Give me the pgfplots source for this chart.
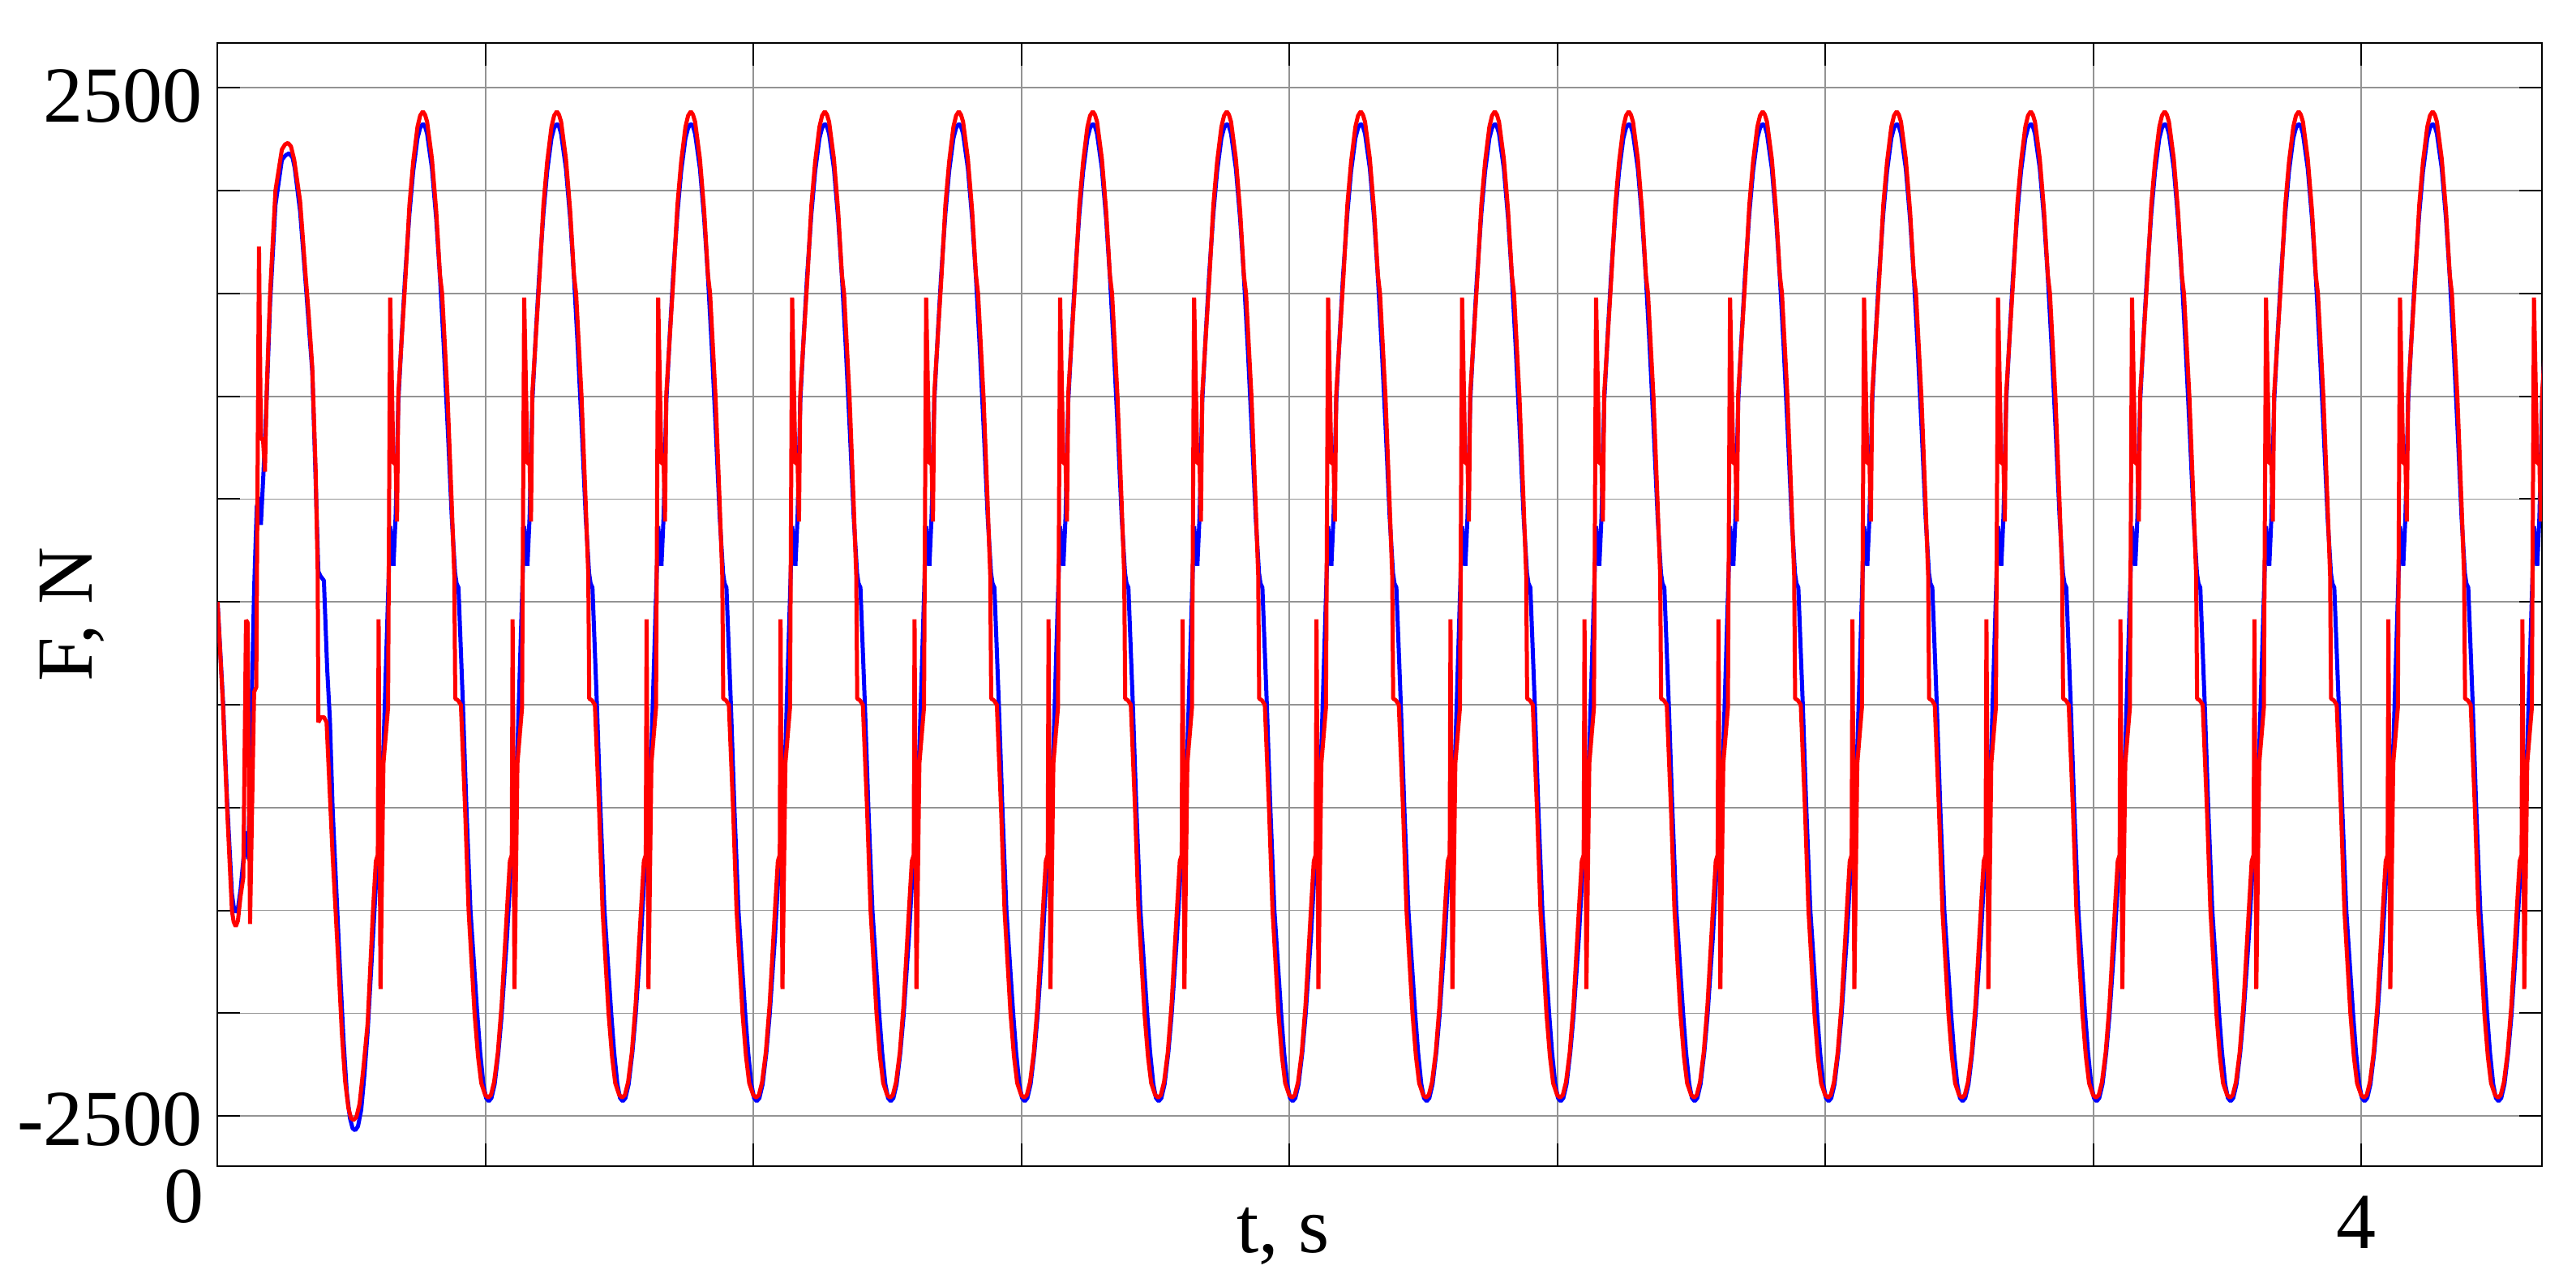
\documentclass[border=0pt]{standalone}
\usepackage{fontspec}
\setmainfont{Liberation Serif}
\usepackage{pgfplots}
\pgfplotsset{compat=1.18}

\newcommand{\lblfont}{\fontsize{14.7}{17}\selectfont}

\begin{document}
\begin{tikzpicture}
\begin{axis}[
  scale only axis,
  width=430pt, height=207.8pt,
  xmin=0, xmax=4.337,
  ymin=-2745, ymax=2718,
  xtick={0,0.5,1,1.5,2,2.5,3,3.5,4},
  xticklabels={\raisebox{4.8pt}{\llap{0\hspace{1.65pt}}},,,,,,,,4},
  ytick={-2500,-2000,-1500,-1000,-500,0,500,1000,1500,2000,2500},
  yticklabels={-2500,,,,,,,,,,\raisebox{-0.9pt}{2500}\hspace{2.25pt}},
  xticklabel style={anchor=base, inner sep=0pt, yshift=-15.1pt, xshift=-0.95pt, font=\lblfont},
  yticklabel style={anchor=base east, inner sep=0pt, xshift=-2.6pt, yshift=-5.4pt, font=\lblfont},
  tick align=inside,
  major tick length=4.2pt,
  major tick style={black, line width=0.3pt},
  grid=major,
  major grid style={gray!85, line width=0.25pt},
  axis line style={black, line width=0.3pt},
  xlabel={t, s},
  ylabel={F, N},
  x label style={at={(axis description cs:0.4584,-0.0769)}, anchor=base, inner sep=0pt, font=\lblfont},
  y label style={at={(axis description cs:-0.05407,0.4913)}, rotate=0, anchor=base, inner sep=0pt, font=\lblfont},
]
% blue
\addplot[blue, line width=0.75pt, line join=bevel] coordinates {
(0,0) (0.0101,-480) (0.0177,-960) (0.0268,-1420) (0.0300,-1480) (0.0339,-1510) (0.0380,-1490) (0.0429,-1400) (0.0531,-1115) (0.0571,-1251) (0.0631,-551) (0.0682,59) (0.0732,465) (0.0783,510) (0.0808,375) (0.0858,634) (0.0920,1020) (0.0980,1450) (0.1080,1930) (0.1200,2150) (0.1270,2172) (0.1337,2182) (0.1400,2160) (0.1440,2110) (0.1540,1900) (0.1641,1560) (0.1767,1120) (0.1818,700) (0.1880,149) (0.1920,126) (0.1984,104) (0.2045,-325) (0.2096,-573) (0.2146,-1002) (0.2272,-1720) (0.2350,-2130) (0.2410,-2380) (0.2470,-2510) (0.2520,-2560) (0.2568,-2569) (0.2620,-2550) (0.2680,-2470) (0.2740,-2300) (0.280,-2090)
(0.290,-1630) (0.297,-1300) (0.2995,-1235) (0.3025,-1205) (0.310,-672) (0.3221,369) (0.3282,176) (0.3323,420) (0.3373,975) (0.344,1310) (0.350,1585) (0.358,1888) (0.365,2094) (0.373,2255) (0.378,2305) (0.383,2325) (0.387,2313) (0.391,2277) (0.400,2108) (0.408,1862) (0.415,1580) (0.422,1245) (0.430,815) (0.437,410) (0.4432,140) (0.446,90) (0.4495,70) (0.4578,-500) (0.4643,-1000) (0.4719,-1500) (0.4845,-2000) (0.490,-2190) (0.496,-2345) (0.501,-2412)
(0.506,-2428) (0.511,-2412) (0.517,-2345) (0.524,-2190) (0.530,-2012) (0.540,-1630) (0.547,-1300) (0.5495,-1235) (0.5525,-1205) (0.560,-672) (0.5721,369) (0.5782,176) (0.5823,420) (0.5873,975) (0.594,1310) (0.600,1585) (0.608,1888) (0.615,2094) (0.623,2255) (0.628,2305) (0.633,2325) (0.637,2313) (0.641,2277) (0.650,2108) (0.658,1862) (0.665,1580) (0.672,1245) (0.680,815) (0.687,410) (0.6932,140) (0.696,90) (0.6995,70) (0.7078,-500) (0.7143,-1000) (0.7219,-1500) (0.7345,-2000) (0.740,-2190) (0.746,-2345) (0.751,-2412)
(0.756,-2428) (0.761,-2412) (0.767,-2345) (0.774,-2190) (0.780,-2012) (0.790,-1630) (0.797,-1300) (0.7995,-1235) (0.8025,-1205) (0.810,-672) (0.8221,369) (0.8282,176) (0.8323,420) (0.8373,975) (0.844,1310) (0.850,1585) (0.858,1888) (0.865,2094) (0.873,2255) (0.878,2305) (0.883,2325) (0.887,2313) (0.891,2277) (0.900,2108) (0.908,1862) (0.915,1580) (0.922,1245) (0.930,815) (0.937,410) (0.9432,140) (0.946,90) (0.9495,70) (0.9578,-500) (0.9643,-1000) (0.9719,-1500) (0.9845,-2000) (0.990,-2190) (0.996,-2345) (1.001,-2412)
(1.006,-2428) (1.011,-2412) (1.017,-2345) (1.024,-2190) (1.030,-2012) (1.040,-1630) (1.047,-1300) (1.0495,-1235) (1.0525,-1205) (1.060,-672) (1.0721,369) (1.0782,176) (1.0823,420) (1.0873,975) (1.094,1310) (1.100,1585) (1.108,1888) (1.115,2094) (1.123,2255) (1.128,2305) (1.133,2325) (1.137,2313) (1.141,2277) (1.150,2108) (1.158,1862) (1.165,1580) (1.172,1245) (1.180,815) (1.187,410) (1.1932,140) (1.196,90) (1.1995,70) (1.2078,-500) (1.2143,-1000) (1.2219,-1500) (1.2345,-2000) (1.240,-2190) (1.246,-2345) (1.251,-2412)
(1.256,-2428) (1.261,-2412) (1.267,-2345) (1.274,-2190) (1.280,-2012) (1.290,-1630) (1.297,-1300) (1.2995,-1235) (1.3025,-1205) (1.310,-672) (1.3221,369) (1.3282,176) (1.3323,420) (1.3373,975) (1.344,1310) (1.350,1585) (1.358,1888) (1.365,2094) (1.373,2255) (1.378,2305) (1.383,2325) (1.387,2313) (1.391,2277) (1.400,2108) (1.408,1862) (1.415,1580) (1.422,1245) (1.430,815) (1.437,410) (1.4432,140) (1.446,90) (1.4495,70) (1.4578,-500) (1.4643,-1000) (1.4719,-1500) (1.4845,-2000) (1.490,-2190) (1.496,-2345) (1.501,-2412)
(1.506,-2428) (1.511,-2412) (1.517,-2345) (1.524,-2190) (1.530,-2012) (1.540,-1630) (1.547,-1300) (1.5495,-1235) (1.5525,-1205) (1.560,-672) (1.5721,369) (1.5782,176) (1.5823,420) (1.5873,975) (1.594,1310) (1.600,1585) (1.608,1888) (1.615,2094) (1.623,2255) (1.628,2305) (1.633,2325) (1.637,2313) (1.641,2277) (1.650,2108) (1.658,1862) (1.665,1580) (1.672,1245) (1.680,815) (1.687,410) (1.6932,140) (1.696,90) (1.6995,70) (1.7078,-500) (1.7143,-1000) (1.7219,-1500) (1.7345,-2000) (1.740,-2190) (1.746,-2345) (1.751,-2412)
(1.756,-2428) (1.761,-2412) (1.767,-2345) (1.774,-2190) (1.780,-2012) (1.790,-1630) (1.797,-1300) (1.7995,-1235) (1.8025,-1205) (1.810,-672) (1.8221,369) (1.8282,176) (1.8323,420) (1.8373,975) (1.844,1310) (1.850,1585) (1.858,1888) (1.865,2094) (1.873,2255) (1.878,2305) (1.883,2325) (1.887,2313) (1.891,2277) (1.900,2108) (1.908,1862) (1.915,1580) (1.922,1245) (1.930,815) (1.937,410) (1.9432,140) (1.946,90) (1.9495,70) (1.9578,-500) (1.9643,-1000) (1.9719,-1500) (1.9845,-2000) (1.990,-2190) (1.996,-2345) (2.001,-2412)
(2.006,-2428) (2.011,-2412) (2.017,-2345) (2.024,-2190) (2.030,-2012) (2.040,-1630) (2.047,-1300) (2.0495,-1235) (2.0525,-1205) (2.060,-672) (2.0721,369) (2.0782,176) (2.0823,420) (2.0873,975) (2.094,1310) (2.100,1585) (2.108,1888) (2.115,2094) (2.123,2255) (2.128,2305) (2.133,2325) (2.137,2313) (2.141,2277) (2.150,2108) (2.158,1862) (2.165,1580) (2.172,1245) (2.180,815) (2.187,410) (2.1932,140) (2.196,90) (2.1995,70) (2.2078,-500) (2.2143,-1000) (2.2219,-1500) (2.2345,-2000) (2.240,-2190) (2.246,-2345) (2.251,-2412)
(2.256,-2428) (2.261,-2412) (2.267,-2345) (2.274,-2190) (2.280,-2012) (2.290,-1630) (2.297,-1300) (2.2995,-1235) (2.3025,-1205) (2.310,-672) (2.3221,369) (2.3282,176) (2.3323,420) (2.3373,975) (2.344,1310) (2.350,1585) (2.358,1888) (2.365,2094) (2.373,2255) (2.378,2305) (2.383,2325) (2.387,2313) (2.391,2277) (2.400,2108) (2.408,1862) (2.415,1580) (2.422,1245) (2.430,815) (2.437,410) (2.4432,140) (2.446,90) (2.4495,70) (2.4578,-500) (2.4643,-1000) (2.4719,-1500) (2.4845,-2000) (2.490,-2190) (2.496,-2345) (2.501,-2412)
(2.506,-2428) (2.511,-2412) (2.517,-2345) (2.524,-2190) (2.530,-2012) (2.540,-1630) (2.547,-1300) (2.5495,-1235) (2.5525,-1205) (2.560,-672) (2.5721,369) (2.5782,176) (2.5823,420) (2.5873,975) (2.594,1310) (2.600,1585) (2.608,1888) (2.615,2094) (2.623,2255) (2.628,2305) (2.633,2325) (2.637,2313) (2.641,2277) (2.650,2108) (2.658,1862) (2.665,1580) (2.672,1245) (2.680,815) (2.687,410) (2.6932,140) (2.696,90) (2.6995,70) (2.7078,-500) (2.7143,-1000) (2.7219,-1500) (2.7345,-2000) (2.740,-2190) (2.746,-2345) (2.751,-2412)
(2.756,-2428) (2.761,-2412) (2.767,-2345) (2.774,-2190) (2.780,-2012) (2.790,-1630) (2.797,-1300) (2.7995,-1235) (2.8025,-1205) (2.810,-672) (2.8221,369) (2.8282,176) (2.8323,420) (2.8373,975) (2.844,1310) (2.850,1585) (2.858,1888) (2.865,2094) (2.873,2255) (2.878,2305) (2.883,2325) (2.887,2313) (2.891,2277) (2.900,2108) (2.908,1862) (2.915,1580) (2.922,1245) (2.930,815) (2.937,410) (2.9432,140) (2.946,90) (2.9495,70) (2.9578,-500) (2.9643,-1000) (2.9719,-1500) (2.9845,-2000) (2.990,-2190) (2.996,-2345) (3.001,-2412)
(3.006,-2428) (3.011,-2412) (3.017,-2345) (3.024,-2190) (3.030,-2012) (3.040,-1630) (3.047,-1300) (3.0495,-1235) (3.0525,-1205) (3.060,-672) (3.0721,369) (3.0782,176) (3.0823,420) (3.0873,975) (3.094,1310) (3.100,1585) (3.108,1888) (3.115,2094) (3.123,2255) (3.128,2305) (3.133,2325) (3.137,2313) (3.141,2277) (3.150,2108) (3.158,1862) (3.165,1580) (3.172,1245) (3.180,815) (3.187,410) (3.1932,140) (3.196,90) (3.1995,70) (3.2078,-500) (3.2143,-1000) (3.2219,-1500) (3.2345,-2000) (3.240,-2190) (3.246,-2345) (3.251,-2412)
(3.256,-2428) (3.261,-2412) (3.267,-2345) (3.274,-2190) (3.280,-2012) (3.290,-1630) (3.297,-1300) (3.2995,-1235) (3.3025,-1205) (3.310,-672) (3.3221,369) (3.3282,176) (3.3323,420) (3.3373,975) (3.344,1310) (3.350,1585) (3.358,1888) (3.365,2094) (3.373,2255) (3.378,2305) (3.383,2325) (3.387,2313) (3.391,2277) (3.400,2108) (3.408,1862) (3.415,1580) (3.422,1245) (3.430,815) (3.437,410) (3.4432,140) (3.446,90) (3.4495,70) (3.4578,-500) (3.4643,-1000) (3.4719,-1500) (3.4845,-2000) (3.490,-2190) (3.496,-2345) (3.501,-2412)
(3.506,-2428) (3.511,-2412) (3.517,-2345) (3.524,-2190) (3.530,-2012) (3.540,-1630) (3.547,-1300) (3.5495,-1235) (3.5525,-1205) (3.560,-672) (3.5721,369) (3.5782,176) (3.5823,420) (3.5873,975) (3.594,1310) (3.600,1585) (3.608,1888) (3.615,2094) (3.623,2255) (3.628,2305) (3.633,2325) (3.637,2313) (3.641,2277) (3.650,2108) (3.658,1862) (3.665,1580) (3.672,1245) (3.680,815) (3.687,410) (3.6932,140) (3.696,90) (3.6995,70) (3.7078,-500) (3.7143,-1000) (3.7219,-1500) (3.7345,-2000) (3.740,-2190) (3.746,-2345) (3.751,-2412)
(3.756,-2428) (3.761,-2412) (3.767,-2345) (3.774,-2190) (3.780,-2012) (3.790,-1630) (3.797,-1300) (3.7995,-1235) (3.8025,-1205) (3.810,-672) (3.8221,369) (3.8282,176) (3.8323,420) (3.8373,975) (3.844,1310) (3.850,1585) (3.858,1888) (3.865,2094) (3.873,2255) (3.878,2305) (3.883,2325) (3.887,2313) (3.891,2277) (3.900,2108) (3.908,1862) (3.915,1580) (3.922,1245) (3.930,815) (3.937,410) (3.9432,140) (3.946,90) (3.9495,70) (3.9578,-500) (3.9643,-1000) (3.9719,-1500) (3.9845,-2000) (3.990,-2190) (3.996,-2345) (4.001,-2412)
(4.006,-2428) (4.011,-2412) (4.017,-2345) (4.024,-2190) (4.030,-2012) (4.040,-1630) (4.047,-1300) (4.0495,-1235) (4.0525,-1205) (4.060,-672) (4.0721,369) (4.0782,176) (4.0823,420) (4.0873,975) (4.094,1310) (4.100,1585) (4.108,1888) (4.115,2094) (4.123,2255) (4.128,2305) (4.133,2325) (4.137,2313) (4.141,2277) (4.150,2108) (4.158,1862) (4.165,1580) (4.172,1245) (4.180,815) (4.187,410) (4.1932,140) (4.196,90) (4.1995,70) (4.2078,-500) (4.2143,-1000) (4.2219,-1500) (4.2345,-2000) (4.240,-2190) (4.246,-2345) (4.251,-2412)
(4.256,-2428) (4.261,-2412) (4.267,-2345) (4.274,-2190) (4.280,-2012) (4.290,-1630) (4.297,-1300) (4.2995,-1235) (4.3025,-1205) (4.310,-672) (4.3221,369) (4.3282,176) (4.3323,420) (4.3373,975) (4.344,1310)
};
% red
\addplot[red, line width=0.75pt, line join=bevel] coordinates {
(0,0) (0.0101,-500) (0.0177,-1000) (0.0268,-1500) (0.0300,-1555) (0.0339,-1578) (0.0380,-1550) (0.0429,-1431) (0.0480,-1341) (0.0531,-88) (0.0560,-100) (0.0606,-1566) (0.0682,-438) (0.0722,-415) (0.0773,1729) (0.0808,792) (0.0848,792) (0.0884,634) (0.0920,1050) (0.0980,1500) (0.1080,2000) (0.1200,2200) (0.1260,2225) (0.1314,2232) (0.1370,2215) (0.1430,2150) (0.1540,1950) (0.1641,1594) (0.1700,1400) (0.1767,1142) (0.1830,640) (0.1868,149) (0.1880,-585) (0.1932,-560) (0.1985,-560) (0.2034,-585) (0.2146,-1228) (0.2247,-1720) (0.2320,-2100) (0.2380,-2330) (0.2440,-2460) (0.2490,-2510) (0.2538,-2519) (0.2590,-2505) (0.2650,-2440) (0.2720,-2270) (0.280,-2050)
(0.290,-1500) (0.2954,-1260) (0.299,-1230) (0.3005,-84) (0.304,-1882) (0.3095,-785) (0.3181,-514) (0.3221,1480) (0.3282,674) (0.3323,674) (0.3348,391) (0.3373,1013) (0.3509,1590) (0.358,1930) (0.365,2140) (0.373,2310) (0.378,2365) (0.383,2385) (0.387,2370) (0.391,2335) (0.400,2155) (0.408,1900) (0.415,1590) (0.419,1500) (0.4291,1000) (0.4366,500) (0.4417,130) (0.4435,-470) (0.4485,-478) (0.454,-500) (0.4618,-1000) (0.4684,-1500) (0.4795,-2000) (0.486,-2210) (0.492,-2340) (0.4995,-2398)
(0.505,-2410) (0.510,-2398) (0.516,-2335) (0.523,-2190) (0.530,-1960) (0.540,-1500) (0.5454,-1260) (0.549,-1230) (0.5505,-84) (0.554,-1882) (0.5595,-785) (0.5681,-514) (0.5721,1480) (0.5782,674) (0.5823,674) (0.5848,391) (0.5873,1013) (0.6009,1590) (0.608,1930) (0.615,2140) (0.623,2310) (0.628,2365) (0.633,2385) (0.637,2370) (0.641,2335) (0.650,2155) (0.658,1900) (0.665,1590) (0.669,1500) (0.6791,1000) (0.6866,500) (0.6917,130) (0.6935,-470) (0.6985,-478) (0.704,-500) (0.7118,-1000) (0.7184,-1500) (0.7295,-2000) (0.736,-2210) (0.742,-2340) (0.7495,-2398)
(0.755,-2410) (0.760,-2398) (0.766,-2335) (0.773,-2190) (0.780,-1960) (0.790,-1500) (0.7954,-1260) (0.799,-1230) (0.8005,-84) (0.804,-1882) (0.8095,-785) (0.8181,-514) (0.8221,1480) (0.8282,674) (0.8323,674) (0.8348,391) (0.8373,1013) (0.8509,1590) (0.858,1930) (0.865,2140) (0.873,2310) (0.878,2365) (0.883,2385) (0.887,2370) (0.891,2335) (0.900,2155) (0.908,1900) (0.915,1590) (0.919,1500) (0.9291,1000) (0.9366,500) (0.9417,130) (0.9435,-470) (0.9485,-478) (0.954,-500) (0.9618,-1000) (0.9684,-1500) (0.9795,-2000) (0.986,-2210) (0.992,-2340) (0.9995,-2398)
(1.005,-2410) (1.010,-2398) (1.016,-2335) (1.023,-2190) (1.030,-1960) (1.040,-1500) (1.0454,-1260) (1.049,-1230) (1.0505,-84) (1.054,-1882) (1.0595,-785) (1.0681,-514) (1.0721,1480) (1.0782,674) (1.0823,674) (1.0848,391) (1.0873,1013) (1.1009,1590) (1.108,1930) (1.115,2140) (1.123,2310) (1.128,2365) (1.133,2385) (1.137,2370) (1.141,2335) (1.150,2155) (1.158,1900) (1.165,1590) (1.169,1500) (1.1791,1000) (1.1866,500) (1.1917,130) (1.1935,-470) (1.1985,-478) (1.204,-500) (1.2118,-1000) (1.2184,-1500) (1.2295,-2000) (1.236,-2210) (1.242,-2340) (1.2495,-2398)
(1.255,-2410) (1.260,-2398) (1.266,-2335) (1.273,-2190) (1.280,-1960) (1.290,-1500) (1.2954,-1260) (1.299,-1230) (1.3005,-84) (1.304,-1882) (1.3095,-785) (1.3181,-514) (1.3221,1480) (1.3282,674) (1.3323,674) (1.3348,391) (1.3373,1013) (1.3509,1590) (1.358,1930) (1.365,2140) (1.373,2310) (1.378,2365) (1.383,2385) (1.387,2370) (1.391,2335) (1.400,2155) (1.408,1900) (1.415,1590) (1.419,1500) (1.4291,1000) (1.4366,500) (1.4417,130) (1.4435,-470) (1.4485,-478) (1.454,-500) (1.4618,-1000) (1.4684,-1500) (1.4795,-2000) (1.486,-2210) (1.492,-2340) (1.4995,-2398)
(1.505,-2410) (1.510,-2398) (1.516,-2335) (1.523,-2190) (1.530,-1960) (1.540,-1500) (1.5454,-1260) (1.549,-1230) (1.5505,-84) (1.554,-1882) (1.5595,-785) (1.5681,-514) (1.5721,1480) (1.5782,674) (1.5823,674) (1.5848,391) (1.5873,1013) (1.6009,1590) (1.608,1930) (1.615,2140) (1.623,2310) (1.628,2365) (1.633,2385) (1.637,2370) (1.641,2335) (1.650,2155) (1.658,1900) (1.665,1590) (1.669,1500) (1.6791,1000) (1.6866,500) (1.6917,130) (1.6935,-470) (1.6985,-478) (1.704,-500) (1.7118,-1000) (1.7184,-1500) (1.7295,-2000) (1.736,-2210) (1.742,-2340) (1.7495,-2398)
(1.755,-2410) (1.760,-2398) (1.766,-2335) (1.773,-2190) (1.780,-1960) (1.790,-1500) (1.7954,-1260) (1.799,-1230) (1.8005,-84) (1.804,-1882) (1.8095,-785) (1.8181,-514) (1.8221,1480) (1.8282,674) (1.8323,674) (1.8348,391) (1.8373,1013) (1.8509,1590) (1.858,1930) (1.865,2140) (1.873,2310) (1.878,2365) (1.883,2385) (1.887,2370) (1.891,2335) (1.900,2155) (1.908,1900) (1.915,1590) (1.919,1500) (1.9291,1000) (1.9366,500) (1.9417,130) (1.9435,-470) (1.9485,-478) (1.954,-500) (1.9618,-1000) (1.9684,-1500) (1.9795,-2000) (1.986,-2210) (1.992,-2340) (1.9995,-2398)
(2.005,-2410) (2.010,-2398) (2.016,-2335) (2.023,-2190) (2.030,-1960) (2.040,-1500) (2.0454,-1260) (2.049,-1230) (2.0505,-84) (2.054,-1882) (2.0595,-785) (2.0681,-514) (2.0721,1480) (2.0782,674) (2.0823,674) (2.0848,391) (2.0873,1013) (2.1009,1590) (2.108,1930) (2.115,2140) (2.123,2310) (2.128,2365) (2.133,2385) (2.137,2370) (2.141,2335) (2.150,2155) (2.158,1900) (2.165,1590) (2.169,1500) (2.1791,1000) (2.1866,500) (2.1917,130) (2.1935,-470) (2.1985,-478) (2.204,-500) (2.2118,-1000) (2.2184,-1500) (2.2295,-2000) (2.236,-2210) (2.242,-2340) (2.2495,-2398)
(2.255,-2410) (2.260,-2398) (2.266,-2335) (2.273,-2190) (2.280,-1960) (2.290,-1500) (2.2954,-1260) (2.299,-1230) (2.3005,-84) (2.304,-1882) (2.3095,-785) (2.3181,-514) (2.3221,1480) (2.3282,674) (2.3323,674) (2.3348,391) (2.3373,1013) (2.3509,1590) (2.358,1930) (2.365,2140) (2.373,2310) (2.378,2365) (2.383,2385) (2.387,2370) (2.391,2335) (2.400,2155) (2.408,1900) (2.415,1590) (2.419,1500) (2.4291,1000) (2.4366,500) (2.4417,130) (2.4435,-470) (2.4485,-478) (2.454,-500) (2.4618,-1000) (2.4684,-1500) (2.4795,-2000) (2.486,-2210) (2.492,-2340) (2.4995,-2398)
(2.505,-2410) (2.510,-2398) (2.516,-2335) (2.523,-2190) (2.530,-1960) (2.540,-1500) (2.5454,-1260) (2.549,-1230) (2.5505,-84) (2.554,-1882) (2.5595,-785) (2.5681,-514) (2.5721,1480) (2.5782,674) (2.5823,674) (2.5848,391) (2.5873,1013) (2.6009,1590) (2.608,1930) (2.615,2140) (2.623,2310) (2.628,2365) (2.633,2385) (2.637,2370) (2.641,2335) (2.650,2155) (2.658,1900) (2.665,1590) (2.669,1500) (2.6791,1000) (2.6866,500) (2.6917,130) (2.6935,-470) (2.6985,-478) (2.704,-500) (2.7118,-1000) (2.7184,-1500) (2.7295,-2000) (2.736,-2210) (2.742,-2340) (2.7495,-2398)
(2.755,-2410) (2.760,-2398) (2.766,-2335) (2.773,-2190) (2.780,-1960) (2.790,-1500) (2.7954,-1260) (2.799,-1230) (2.8005,-84) (2.804,-1882) (2.8095,-785) (2.8181,-514) (2.8221,1480) (2.8282,674) (2.8323,674) (2.8348,391) (2.8373,1013) (2.8509,1590) (2.858,1930) (2.865,2140) (2.873,2310) (2.878,2365) (2.883,2385) (2.887,2370) (2.891,2335) (2.900,2155) (2.908,1900) (2.915,1590) (2.919,1500) (2.9291,1000) (2.9366,500) (2.9417,130) (2.9435,-470) (2.9485,-478) (2.954,-500) (2.9618,-1000) (2.9684,-1500) (2.9795,-2000) (2.986,-2210) (2.992,-2340) (2.9995,-2398)
(3.005,-2410) (3.010,-2398) (3.016,-2335) (3.023,-2190) (3.030,-1960) (3.040,-1500) (3.0454,-1260) (3.049,-1230) (3.0505,-84) (3.054,-1882) (3.0595,-785) (3.0681,-514) (3.0721,1480) (3.0782,674) (3.0823,674) (3.0848,391) (3.0873,1013) (3.1009,1590) (3.108,1930) (3.115,2140) (3.123,2310) (3.128,2365) (3.133,2385) (3.137,2370) (3.141,2335) (3.150,2155) (3.158,1900) (3.165,1590) (3.169,1500) (3.1791,1000) (3.1866,500) (3.1917,130) (3.1935,-470) (3.1985,-478) (3.204,-500) (3.2118,-1000) (3.2184,-1500) (3.2295,-2000) (3.236,-2210) (3.242,-2340) (3.2495,-2398)
(3.255,-2410) (3.260,-2398) (3.266,-2335) (3.273,-2190) (3.280,-1960) (3.290,-1500) (3.2954,-1260) (3.299,-1230) (3.3005,-84) (3.304,-1882) (3.3095,-785) (3.3181,-514) (3.3221,1480) (3.3282,674) (3.3323,674) (3.3348,391) (3.3373,1013) (3.3509,1590) (3.358,1930) (3.365,2140) (3.373,2310) (3.378,2365) (3.383,2385) (3.387,2370) (3.391,2335) (3.400,2155) (3.408,1900) (3.415,1590) (3.419,1500) (3.4291,1000) (3.4366,500) (3.4417,130) (3.4435,-470) (3.4485,-478) (3.454,-500) (3.4618,-1000) (3.4684,-1500) (3.4795,-2000) (3.486,-2210) (3.492,-2340) (3.4995,-2398)
(3.505,-2410) (3.510,-2398) (3.516,-2335) (3.523,-2190) (3.530,-1960) (3.540,-1500) (3.5454,-1260) (3.549,-1230) (3.5505,-84) (3.554,-1882) (3.5595,-785) (3.5681,-514) (3.5721,1480) (3.5782,674) (3.5823,674) (3.5848,391) (3.5873,1013) (3.6009,1590) (3.608,1930) (3.615,2140) (3.623,2310) (3.628,2365) (3.633,2385) (3.637,2370) (3.641,2335) (3.650,2155) (3.658,1900) (3.665,1590) (3.669,1500) (3.6791,1000) (3.6866,500) (3.6917,130) (3.6935,-470) (3.6985,-478) (3.704,-500) (3.7118,-1000) (3.7184,-1500) (3.7295,-2000) (3.736,-2210) (3.742,-2340) (3.7495,-2398)
(3.755,-2410) (3.760,-2398) (3.766,-2335) (3.773,-2190) (3.780,-1960) (3.790,-1500) (3.7954,-1260) (3.799,-1230) (3.8005,-84) (3.804,-1882) (3.8095,-785) (3.8181,-514) (3.8221,1480) (3.8282,674) (3.8323,674) (3.8348,391) (3.8373,1013) (3.8509,1590) (3.858,1930) (3.865,2140) (3.873,2310) (3.878,2365) (3.883,2385) (3.887,2370) (3.891,2335) (3.900,2155) (3.908,1900) (3.915,1590) (3.919,1500) (3.9291,1000) (3.9366,500) (3.9417,130) (3.9435,-470) (3.9485,-478) (3.954,-500) (3.9618,-1000) (3.9684,-1500) (3.9795,-2000) (3.986,-2210) (3.992,-2340) (3.9995,-2398)
(4.005,-2410) (4.010,-2398) (4.016,-2335) (4.023,-2190) (4.030,-1960) (4.040,-1500) (4.0454,-1260) (4.049,-1230) (4.0505,-84) (4.054,-1882) (4.0595,-785) (4.0681,-514) (4.0721,1480) (4.0782,674) (4.0823,674) (4.0848,391) (4.0873,1013) (4.1009,1590) (4.108,1930) (4.115,2140) (4.123,2310) (4.128,2365) (4.133,2385) (4.137,2370) (4.141,2335) (4.150,2155) (4.158,1900) (4.165,1590) (4.169,1500) (4.1791,1000) (4.1866,500) (4.1917,130) (4.1935,-470) (4.1985,-478) (4.204,-500) (4.2118,-1000) (4.2184,-1500) (4.2295,-2000) (4.236,-2210) (4.242,-2340) (4.2495,-2398)
(4.255,-2410) (4.260,-2398) (4.266,-2335) (4.273,-2190) (4.280,-1960) (4.290,-1500) (4.2954,-1260) (4.299,-1230) (4.3005,-84) (4.304,-1882) (4.3095,-785) (4.3181,-514) (4.3221,1480) (4.3282,674) (4.3323,674) (4.3348,391) (4.3373,1013) (4.3509,1590)
};
\end{axis}
\pgfresetboundingbox
\path[use as bounding box] (-40.25pt,-22.275pt) rectangle (436.3pt,215.75pt);
\end{tikzpicture}
\end{document}
